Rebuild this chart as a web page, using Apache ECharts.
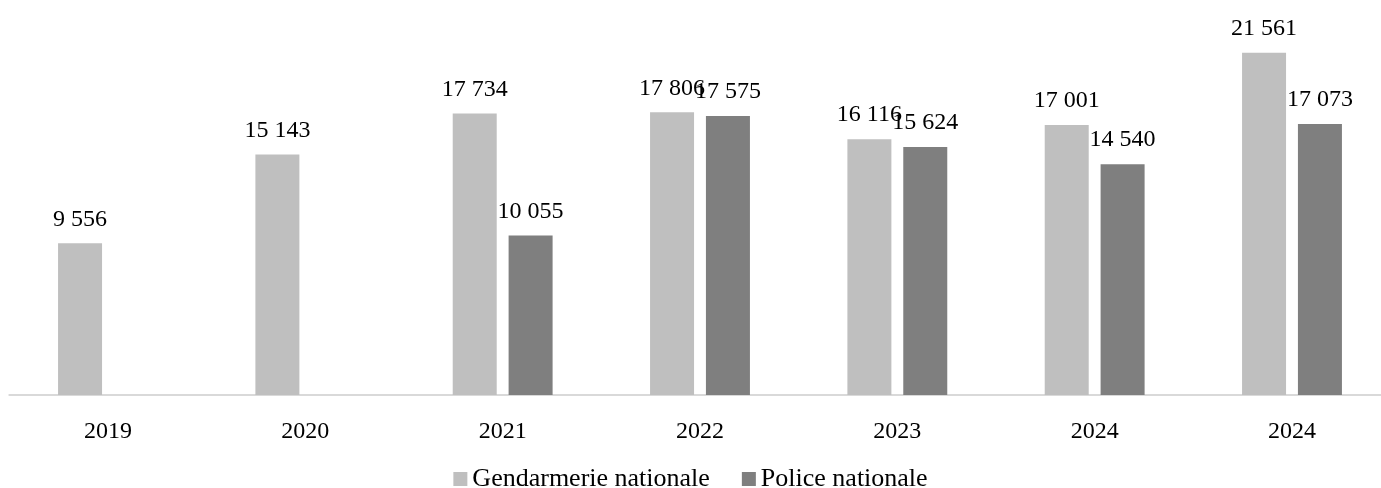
<!DOCTYPE html>
<html>
<head>
<meta charset="utf-8">
<script src="https://cdn.jsdelivr.net/npm/echarts@6/dist/echarts.min.js"></script>
<style>
  html, body { margin: 0; padding: 0; background: #fff; }
  #chart { width: 1381px; height: 488px; }
</style>
</head>
<body>
<div id="chart"></div>
<script>
// années (la dernière est répétée comme dans l'original)
const years = ['2019', '2020', '2021', '2022', '2023', '2024', '2024'];
const gendarmerie = [9556, 15143, 17734, 17806, 16116, 17001, 21561];
const police = [null, null, 10055, 17575, 15624, 14540, 17073];
const seriesNames = ['Gendarmerie nationale', 'Police nationale'];

const FONT = 'Liberation Serif';

// 17734 -> "17 734"
const fmt = p => String(p.value).replace(/\B(?=(\d{3})+(?!\d))/g, ' ');

const chart = echarts.init(document.getElementById('chart'));

const labelStyle = {
    show: true,
    position: 'top',
    distance: 12,
    fontFamily: FONT,
    fontSize: 24,
    color: '#000',
    formatter: fmt
};

chart.setOption({
    animation: false,
    textStyle: { fontFamily: FONT },
    grid: {
        left: 9.33,
        top: 14,
        width: 1381.33,
        height: 381,
        containLabel: false,
        outerBoundsMode: 'none'
    },
    legend: {
        top: 461,
        left: 'center',
        itemWidth: 14,
        itemHeight: 14,
        itemGap: 32,
        icon: 'rect',
        textStyle: { fontFamily: FONT, fontSize: 26, color: '#000' },
        data: seriesNames
    },
    xAxis: {
        type: 'category',
        data: years,
        axisLine: { lineStyle: { color: '#d9d9d9', width: 2 } },
        axisTick: { show: false },
        axisLabel: { fontFamily: FONT, fontSize: 24, color: '#000', margin: 25 }
    },
    yAxis: {
        type: 'value',
        min: 0,
        max: 24000,
        show: false,
        splitLine: { show: false }
    },
    series: [
        {
            name: seriesNames[0],
            type: 'bar',
            data: gendarmerie,
            barWidth: 44,
            barGap: '27%',
            itemStyle: { color: '#bfbfbf' },
            label: labelStyle
        },
        {
            name: seriesNames[1],
            type: 'bar',
            data: police,
            barWidth: 44,
            itemStyle: { color: '#7f7f7f' },
            label: labelStyle
        }
    ]
});

window.addEventListener('resize', () => chart.resize());
</script>
</body>
</html>
